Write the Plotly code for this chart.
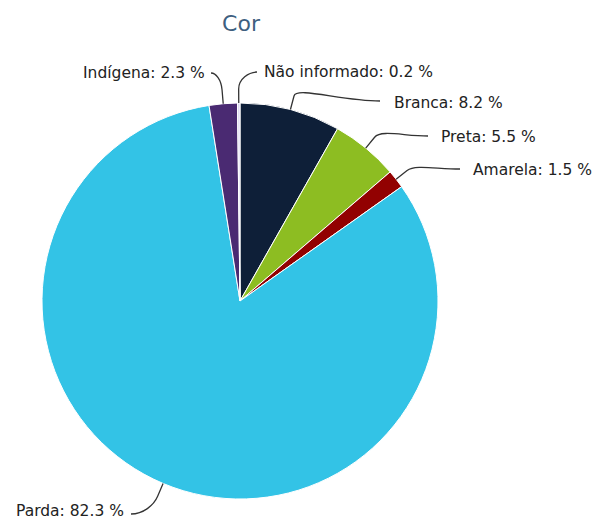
import math
import plotly.graph_objects as go

# ---- data ----
categories = ["Branca", "Preta", "Amarela", "Parda", "Indígena", "Não informado"]
values = [8.2, 5.5, 1.5, 82.3, 2.3, 0.2]
colors = ["#0e1f38", "#8dbd22", "#920101", "#33c3e6", "#4a2a72", "#dcd8f2"]
label_texts = [f"{c}: {v} %" for c, v in zip(categories, values)]

# ---- layout (pixels) ----
W, H = 595, 521
cx, cy, r = 240, 301, 198

# label placement: (text x, text y, xanchor, connector start x, connector start y)
label_pos = {
    "Branca": (392, 103, "left", 380, 101),
    "Preta": (439, 137, "left", 428, 136),
    "Amarela": (471, 170, "left", 460, 169),
    "Parda": (126, 511, "right", 131, 514),
    "Indígena": (207, 73, "right", 211, 73),
    "Não informado": (262, 72, "left", 257, 72),
}


def px(x):
    return x / W


def py(y):
    return 1 - y / H


fig = go.Figure(
    go.Pie(
        labels=categories,
        values=values,
        sort=False,
        direction="clockwise",
        rotation=0,
        marker=dict(colors=colors, line=dict(color="white", width=1)),
        textinfo="none",
        hoverinfo="label+percent",
        showlegend=False,
        domain=dict(x=[px(cx - r), px(cx + r)], y=[py(cy + r), py(cy - r)]),
    )
)

annotations = []
shapes = []
total = sum(values)
cum = 0.0
for cat, val, txt in zip(categories, values, label_texts):
    mid = (cum + val / 2) / total * 2 * math.pi
    cum += val
    ux, uy = math.sin(mid), -math.cos(mid)
    edge = (cx + r * ux, cy + r * uy)
    brk = (cx + (r + 14) * ux, cy + (r + 14) * uy)
    c2 = (brk[0] + 10 * ux, brk[1] + 10 * uy)
    tx, ty, xa, sx, sy = label_pos[cat]
    hdir = -1 if xa == "left" else 1
    c1 = (sx + hdir * 0.45 * abs(sx - brk[0]), sy)
    path = (
        f"M {px(sx)},{py(sy)} C {px(c1[0])},{py(c1[1])} {px(c2[0])},{py(c2[1])} "
        f"{px(brk[0])},{py(brk[1])} L {px(edge[0])},{py(edge[1])}"
    )
    shapes.append(dict(type="path", path=path, xref="paper", yref="paper",
                       line=dict(color="#333333", width=1.3)))
    annotations.append(dict(
        text=txt, x=px(tx), y=py(ty), xref="paper", yref="paper",
        xanchor=xa, yanchor="middle", showarrow=False,
        font=dict(family="DejaVu Sans", size=15.5, color="#222222"),
    ))

fig.update_layout(
    width=W, height=H,
    margin=dict(l=0, r=0, t=0, b=0),
    paper_bgcolor="white", plot_bgcolor="white",
    title=dict(text="Cor", x=px(241), y=py(23), xanchor="center", yanchor="middle",
               font=dict(family="DejaVu Sans", size=22, color="#3e5f80")),
    annotations=annotations,
    shapes=shapes,
)

fig.write_html("out.html")
